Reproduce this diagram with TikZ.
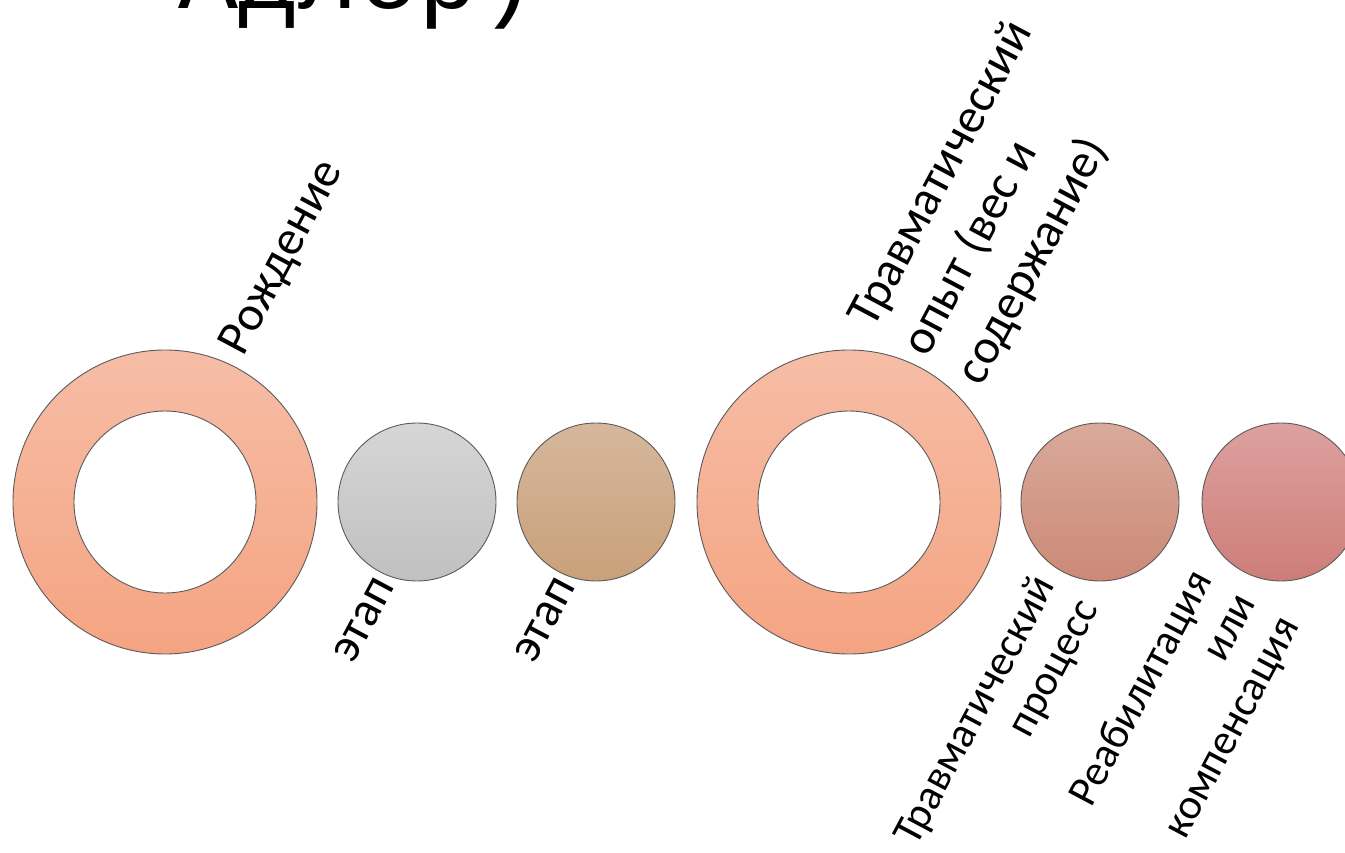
\documentclass[tikz,border=0pt]{standalone}
\usepackage{fontspec}
\setmainfont{Carlito}
\newfontfamily\titlefont{Liberation Mono}
\definecolor{edge}{HTML}{5A5A5A}
\definecolor{ringtop}{HTML}{F6BDA6}
\definecolor{ringbot}{HTML}{F5A482}
\definecolor{graytop}{HTML}{D6D6D6}
\definecolor{graybot}{HTML}{C0C0C0}
\definecolor{tantop}{HTML}{D6B79C}
\definecolor{tanbot}{HTML}{C9A079}
\definecolor{rosetop}{HTML}{D9AA9A}
\definecolor{rosebot}{HTML}{CC8976}
\definecolor{redtop}{HTML}{DDA19F}
\definecolor{redbot}{HTML}{CD7D79}
\begin{document}
\begin{tikzpicture}[x=1pt,y=-1pt,
  ring/.style={circle, draw=edge, line width=0.9pt, minimum size=304pt, inner sep=0pt, top color=ringtop, bottom color=ringbot},
  hole/.style={circle, draw=edge, line width=0.9pt, fill=white, minimum size=182pt, inner sep=0pt},
  dot/.style={circle, draw=edge, line width=0.9pt, minimum size=158pt, inner sep=0pt},
  lbl/.style={rotate=62, font=\fontsize{49}{61}\selectfont, inner sep=0pt},
  lblsmall/.style={rotate=62, font=\fontsize{43}{49}\selectfont, inner sep=0pt, align=right}]
\useasboundingbox (0,0) rectangle (1345,853);
\clip (0,0) rectangle (1345,853);
\node[font=\titlefont\fontsize{100}{100}\selectfont, anchor=base west, inner sep=0pt] (title) at (178,9) {Адлер)};
\node[ring] (r1) at (165,502) {};
\node[hole] (h1) at (r1) {};
\node[dot, top color=graytop, bottom color=graybot] (c2) at (417,502) {};
\node[dot, top color=tantop, bottom color=tanbot] (c3) at (596,502) {};
\node[ring] (r2) at (849,502) {};
\node[hole] (h2) at (r2) {};
\node[dot, top color=rosetop, bottom color=rosebot] (c5) at (1100,502) {};
\node[dot, top color=redtop, bottom color=redbot] (c6) at (1281,502) {};
\node[lbl] (t1) at (283,258) {Рождение};
\node[lbl] (t2) at (364,620) {этап};
\node[lbl] (t3) at (545,620) {этап};
\node[lbl, align=left] (t4) at (996,203) {Травматический\\опыт (вес и\\содержание)};
\node[lblsmall] (t5) at (998,723) {Травматический\\процесс};
\node[lblsmall] (t6) at (1186,712) {Реабилитация\\или\\компенсация};
\end{tikzpicture}
\end{document}
